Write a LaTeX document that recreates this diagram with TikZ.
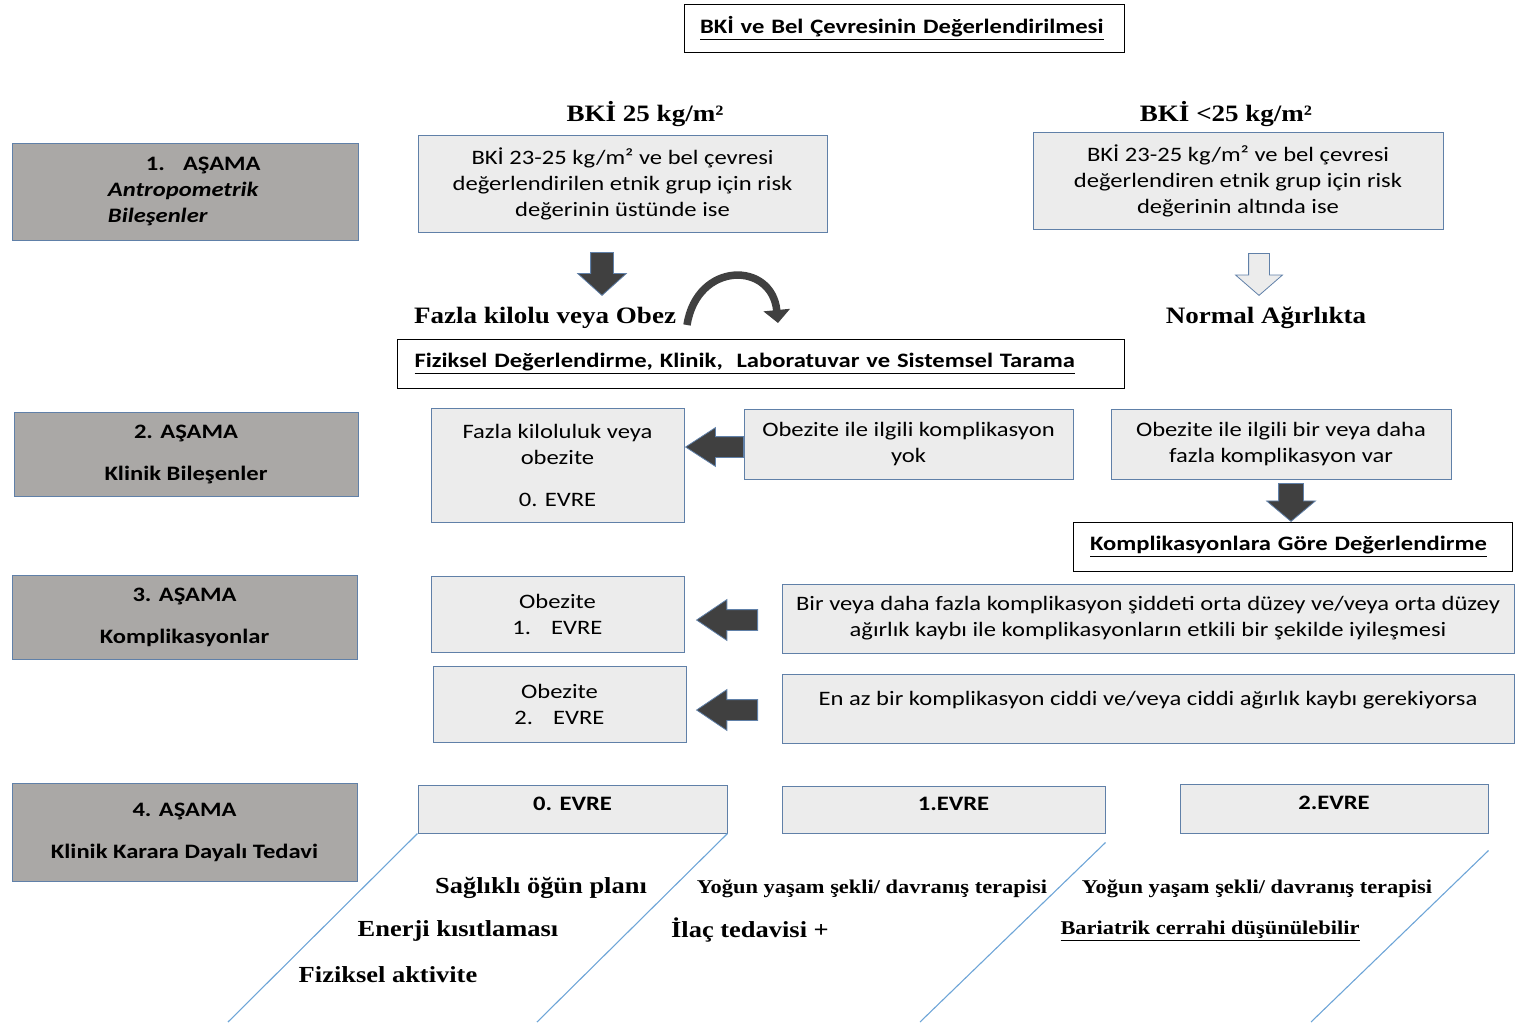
\documentclass[tikz,border=0pt]{standalone}
\usepackage{fontspec}
\setmainfont{Carlito}[FakeStretch=1.2]
\newfontfamily\timesfont{Liberation Serif}[FakeStretch=1.15]
\usetikzlibrary{shapes.arrows,arrows.meta,positioning}
\definecolor{grikutu}{RGB}{170,168,166}
\definecolor{acikkutu}{RGB}{236,236,236}
\definecolor{kenar}{RGB}{96,128,168}
\definecolor{okrenk}{RGB}{64,64,64}
\definecolor{mavi}{RGB}{110,165,215}
\tikzset {
asama/.style={shape=rectangle,draw=kenar,fill=grikutu,line width=1pt,align=center,font=\fontsize{20.5}{26}\selectfont\bfseries},
kutu/.style={shape=rectangle,draw=kenar,fill=acikkutu,line width=1pt,align=center,font=\fontsize{20.5}{26}\selectfont},
baslik/.style={shape=rectangle,draw=black,line width=1pt,align=left,inner xsep=16pt,font=\fontsize{20.5}{26}\selectfont\bfseries},
sonuc/.style={font=\timesfont\bfseries\fontsize{23.5}{28}\selectfont},
tedavi/.style={font=\timesfont\bfseries\fontsize{23}{26}\selectfont},
tedavi kucuk/.style={font=\timesfont\bfseries\fontsize{19.5}{24}\selectfont},
blokok/.style={single arrow,draw=kenar,fill=okrenk,line width=0.8pt,inner xsep=0pt,minimum width=0pt,anchor=tail},
cizgi/.style={draw=mavi,line width=1.1pt}
}

\begin{document}
\begin{tikzpicture}
[x=1pt,y=-1pt]
\useasboundingbox (0,0) rectangle (1515,1023);

% baslik
\node[baslik,text width=408pt,minimum height=48pt] (ana baslik) at (904,28) {\underline{BKİ ve Bel Çevresinin Değerlendirilmesi}};
\node[sonuc] (bki ust) at (645,114) {BKİ 25 kg/m²};
\node[sonuc] (bki alt) at (1226,114) {BKİ <25 kg/m²};

% 1. asama
\node[asama,align=left,text width=346pt,inner xsep=0pt,minimum height=97pt] (asama 1) at (185,191.5)
  {\hspace*{134pt}1.\hspace{18pt}AŞAMA\\\hspace*{96pt}\textit{Antropometrik}\\\hspace*{96pt}\textit{Bileşenler}};
\node[kutu,minimum width=409pt,minimum height=97pt] (risk ust) at (622.5,183.5)
  {BKİ 23-25 kg/m² ve bel çevresi\\değerlendirilen etnik grup için risk\\değerinin üstünde ise};
\node[kutu,minimum width=410pt,minimum height=97pt] (risk alt) at (1238,180.5)
  {BKİ 23-25 kg/m² ve bel çevresi\\değerlendiren etnik grup için risk\\değerinin altında ise};
\node[blokok,rotate=-90,minimum height=43pt,inner ysep=11pt,single arrow head extend=13pt,single arrow tip angle=96] (ok ust) at (602,252) {};
\node[blokok,fill=acikkutu,rotate=-90,minimum height=42pt,inner ysep=10pt,single arrow head extend=13pt,single arrow tip angle=98] (ok alt) at (1259,253) {};
\node[sonuc] (fazla kilolu) at (545,318) {Fazla kilolu veya Obez};
\node[sonuc] (normal) at (1266,318) {Normal Ağırlıkta};
\coordinate (egri bas) at (687,325);
\coordinate (egri son) at (778,323);
\draw[draw=okrenk,line width=7.5pt,-{Triangle[width=26pt,length=13pt]}] (egri bas) .. controls (697,261) and (772,261) .. (egri son);
\node[baslik,text width=693pt,inner xsep=17pt,minimum height=49pt] (tarama) at (761,363.5)
  {\underline{Fiziksel Değerlendirme, Klinik,\ \ Laboratuvar ve Sistemsel Tarama}};

% 2. asama
\node[asama,minimum width=344pt,minimum height=84pt] (asama 2) at (186,454) {2. AŞAMA\\[16pt]Klinik Bileşenler};
\node[kutu,minimum width=253pt,minimum height=114pt] (evre sifir) at (557.5,465) {Fazla kiloluluk veya\\obezite\\[16pt]0. EVRE};
\node[kutu,minimum width=329pt,minimum height=70pt] (komp yok) at (908.5,444) {Obezite ile ilgili komplikasyon\\yok};
\node[kutu,minimum width=340pt,minimum height=70pt] (komp var) at (1281,444) {Obezite ile ilgili bir veya daha\\fazla komplikasyon var};
\node[blokok,rotate=180,minimum height=58pt,inner ysep=10pt,single arrow head extend=9pt,single arrow tip angle=66] (ok yok) at (744,447) {};
\node[blokok,rotate=-90,minimum height=38pt,inner ysep=12pt,single arrow head extend=12pt,single arrow tip angle=100] (ok var) at (1291,483) {};
\node[baslik,text width=405pt,inner xsep=17pt,minimum height=49pt] (komp baslik) at (1292.5,546.5)
  {\underline{Komplikasyonlara Göre Değerlendirme}};

% 3. asama
\node[asama,minimum width=345pt,minimum height=84pt] (asama 3) at (184.5,617) {3. AŞAMA\\[16pt]Komplikasyonlar};
\node[kutu,minimum width=253pt,minimum height=76pt] (evre bir) at (557.5,614) {Obezite\\1.\hspace{20pt}EVRE};
\node[kutu,minimum width=253pt,minimum height=76pt] (evre iki) at (559.5,704) {Obezite\\2.\hspace{20pt}EVRE};
\node[kutu,minimum width=732pt,minimum height=69pt] (komp orta) at (1148,618.5)
  {Bir veya daha fazla komplikasyon şiddeti orta düzey ve/veya orta düzey\\ağırlık kaybı ile komplikasyonların etkili bir şekilde iyileşmesi};
\node[kutu,minimum width=732pt,minimum height=69pt,text height=14pt,text depth=20pt] (komp ciddi) at (1148,708.5)
  {En az bir komplikasyon ciddi ve/veya ciddi ağırlık kaybı gerekiyorsa};
\node[blokok,rotate=180,minimum height=61pt,inner ysep=10pt,single arrow head extend=10pt,single arrow tip angle=68] (ok orta) at (758,620) {};
\node[blokok,rotate=180,minimum height=61pt,inner ysep=10pt,single arrow head extend=10pt,single arrow tip angle=68] (ok ciddi) at (758,710) {};

% 4. asama
\node[asama,minimum width=345pt,minimum height=98pt] (asama 4) at (184.5,832) {4. AŞAMA\\[16pt]Klinik Karara Dayalı Tedavi};
\node[kutu,font=\fontsize{20.5}{26}\selectfont\bfseries,minimum width=309pt,minimum height=48pt,text height=14pt,text depth=12pt] (tedavi sifir) at (572.5,809) {0. EVRE};
\node[kutu,font=\fontsize{20.5}{26}\selectfont\bfseries,minimum width=323pt,minimum height=47pt,text height=14pt,text depth=12pt] (tedavi bir) at (943.5,809.5) {\hspace*{20pt}1.EVRE};
\node[kutu,font=\fontsize{20.5}{26}\selectfont\bfseries,minimum width=308pt,minimum height=49pt,text height=14pt,text depth=12pt] (tedavi iki) at (1334,808.5) {2.EVRE};

\coordinate (alt 1) at (228,1022);
\coordinate (alt 2) at (537,1022);
\coordinate (alt 3) at (920,1022);
\coordinate (alt 4) at (1311,1022);
\draw[cizgi] (tedavi sifir.south west) -- (alt 1);
\draw[cizgi] (tedavi sifir.south east) -- (alt 2);
\draw[cizgi] ([yshift=-9pt]tedavi bir.south east) -- (alt 3);
\draw[cizgi] ([yshift=-17pt]tedavi iki.south east) -- (alt 4);

\node[tedavi] (saglikli) at (541,888) {Sağlıklı öğün planı};
\node[tedavi] (enerji) at (458,931) {Enerji kısıtlaması};
\node[tedavi] (aktivite) at (388,975) {Fiziksel aktivite};
\node[tedavi kucuk] (yasam bir) at (872,889) {Yoğun yaşam şekli/ davranış terapisi};
\node[tedavi,anchor=west,inner xsep=0pt] (ilac) at (671,930) {İlaç tedavisi +};
\node[tedavi kucuk] (yasam iki) at (1257,889) {Yoğun yaşam şekli/ davranış terapisi};
\node[tedavi kucuk] (cerrahi) at (1210,931) {\underline{Bariatrik cerrahi düşünülebilir}};
\end{tikzpicture}
\end{document}
